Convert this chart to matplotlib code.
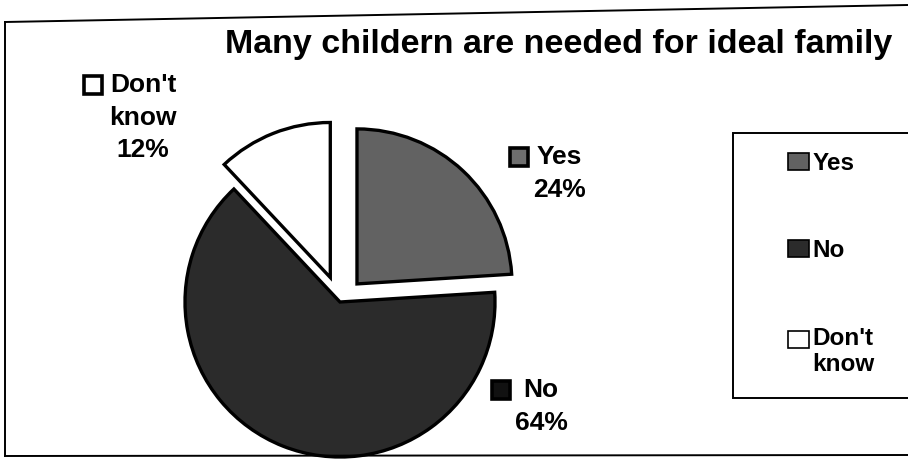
import matplotlib
matplotlib.use('Agg')
import matplotlib.pyplot as plt
from matplotlib.patches import Patch, Rectangle
from matplotlib.lines import Line2D
from matplotlib.legend_handler import HandlerPatch

# ---- data ----
categories = ['Yes', 'No', "Don't know"]
values = [24, 64, 12]
legend_labels = ['Yes', 'No', "Don't\nknow"]
slice_labels = ['Yes', 'No', "Don't\nknow"]
title = 'Many childern are needed for ideal family'

# ---- style / layout ----
colors = ['#626262', '#2b2b2b', '#ffffff']
marker_colors = ['#6e6e6e', '#111111', '#ffffff']
explode_frac = [0.16, 0.0, 0.17]
W, H = 908, 459
R = 155
center_px = (340, 302)
label_pos_px = [(559, 145), (541, 378), (143, 73)]  # center x, top y
marker_gap = [8, 13, 8]

plt.rcParams['font.family'] = ['Liberation Sans', 'DejaVu Sans']
plt.rcParams['font.weight'] = 'bold'

fig = plt.figure(figsize=(W / 100, H / 100), dpi=100)
ax = fig.add_axes([0, 0, 1, 1])
cx, cy = center_px[0], H - center_px[1]
wedges, _ = ax.pie(values, colors=colors, startangle=90, counterclock=False,
                   explode=[e * R for e in explode_frac], center=(cx, cy), radius=R,
                   wedgeprops=dict(edgecolor='black', linewidth=2.4), frame=True)
ax.set_xlim(0, W)
ax.set_ylim(0, H)
ax.set_aspect('equal')
ax.axis('off')

# figure border (scanned frame)
fig.add_artist(Line2D([5 / W, 5 / W], [1 - 22 / H, 1 - 456 / H], transform=fig.transFigure, color='black', lw=1.4))
fig.add_artist(Line2D([5 / W, 1.0], [1 - 22 / H, 1 - 5 / H], transform=fig.transFigure, color='black', lw=1.4))
fig.add_artist(Line2D([5 / W, 1.0], [1 - 456 / H, 1 - 455 / H], transform=fig.transFigure, color='black', lw=1.4))

# title
fig.text(559 / W, 1 - 44 / H, title, ha='center', va='center', fontsize=24.5, fontweight='bold')

# slice labels
fig.canvas.draw()
renderer = fig.canvas.get_renderer()
for lab, val, mc, gap, (px, py) in zip(slice_labels, values, marker_colors, marker_gap, label_pos_px):
    ax.text(px, H - py, f'{lab}\n{val}%', ha='center', va='top', fontsize=19,
            fontweight='bold', multialignment='center', linespacing=1.45)
    first = ax.text(px, H - py, lab.split('\n')[0], ha='center', va='top', fontsize=19,
                    fontweight='bold', alpha=0)
    bb = first.get_window_extent(renderer)
    first.remove()
    s = 18
    ax.add_patch(Rectangle((bb.x0 - gap - s, H - py - 3 - s), s, s, facecolor=mc,
                           edgecolor='black', lw=2.6))

# legend frame and legend
ax.add_patch(Rectangle((733, H - 398), 190, 265, facecolor='white', edgecolor='black', lw=1.4, zorder=0))
handles = [Patch(facecolor=c, edgecolor='black', linewidth=1.2) for c in colors]


def make_patch(shift):
    def f(legend, orig_handle, xdescent, ydescent, width, height, fontsize):
        return Rectangle((-xdescent, -ydescent + shift), width, height)
    return f


hmap = {handles[2]: HandlerPatch(patch_func=make_patch(9))}
leg = fig.legend(handles, legend_labels, loc='upper left', bbox_to_anchor=(766 / W, 1 - 130 / H),
                 frameon=False, prop=dict(size=17.5, weight='bold'), handlelength=0.85,
                 handleheight=0.7, handletextpad=0.15, labelspacing=2.65, handler_map=hmap)
leg.get_texts()[2].set_multialignment('center')

fig.savefig('out.png', dpi=100)
